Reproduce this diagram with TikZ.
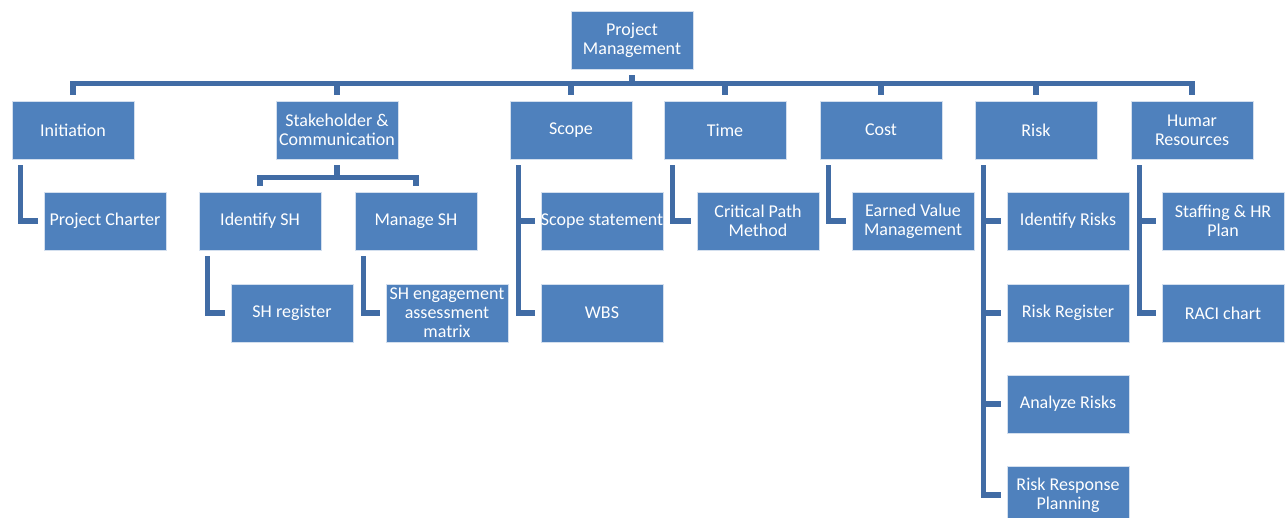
\documentclass[tikz,border=0pt]{standalone}
\usepackage{fontspec}
\setmainfont{Carlito}
\usetikzlibrary{calc}
\definecolor{boxblue}{RGB}{79,129,189}
\definecolor{lineblue}{RGB}{65,108,165}
\begin{document}
\begin{tikzpicture}[x=0.025cm,y=-0.025cm]
\tikzstyle{boxstyle}=[fill=boxblue, draw=white!75!boxblue, line width=0.5pt, text=white, minimum width=3.05cm, minimum height=1.45cm, inner sep=0pt, align=center, font=\fontsize{12.8}{13.6}\selectfont]
\tikzstyle{conn}=[draw=lineblue, line width=3.6pt, shorten <=0.15cm, shorten >=0.13cm]
    \useasboundingbox (0,0) rectangle (1288,518);
    \node[boxstyle] (pm) at (632,40) {Project\\Management};
    \node[boxstyle] (ini) at (73,130) {Initiation};
    \node[boxstyle] (stk) at (337,130) {Stakeholder \&\\Communication};
    \node[boxstyle] (scp) at (571,130) {Scope};
    \node[boxstyle] (tim) at (725,130) {Time};
    \node[boxstyle] (cst) at (881,130) {Cost};
    \node[boxstyle] (rsk) at (1036,130) {Risk};
    \node[boxstyle] (hum) at (1192,130) {Humar\\Resources};
    \node[boxstyle] (pc) at (105,221) {Project Charter};
    \node[boxstyle] (idsh) at (260,221) {Identify SH};
    \node[boxstyle] (mgsh) at (416,221) {Manage SH};
    \node[boxstyle] (shreg) at (292,313) {SH register};
    \node[boxstyle] (sheng) at (447,313) {SH engagement\\assessment\\matrix};
    \node[boxstyle] (sst) at (602,221) {Scope statement};
    \node[boxstyle] (wbs) at (602,313) {WBS};
    \node[boxstyle] (cpm) at (758,221) {Critical Path\\Method};
    \node[boxstyle] (evm) at (913,221) {Earned Value\\Management};
    \node[boxstyle] (idr) at (1068,221) {Identify Risks};
    \node[boxstyle] (rreg) at (1068,313) {Risk Register};
    \node[boxstyle] (anr) at (1068,404) {Analyze Risks};
    \node[boxstyle] (rrp) at (1068,495) {Risk Response\\Planning};
    \node[boxstyle] (stf) at (1223,221) {Staffing \& HR\\Plan};
    \node[boxstyle] (raci) at (1223,313) {RACI chart};
    \foreach \n in {ini,stk,scp,tim,cst,rsk,hum}
        \draw[conn] (\n.north) |- ($(pm.south)+(0,14)$) -- (pm.south);
    \foreach \n in {idsh,mgsh}
        \draw[conn] (\n.north) |- ($(stk.south)+(0,18)$) -- (stk.south);
    \foreach \p/\c in {ini/pc,idsh/shreg,mgsh/sheng,scp/sst,scp/wbs,tim/cpm,cst/evm,rsk/idr,rsk/rreg,rsk/anr,rsk/rrp,hum/stf,hum/raci}
        \draw[conn] ([xshift=9*0.025cm]\p.south west) |- (\c.west);
\end{tikzpicture}
\end{document}
